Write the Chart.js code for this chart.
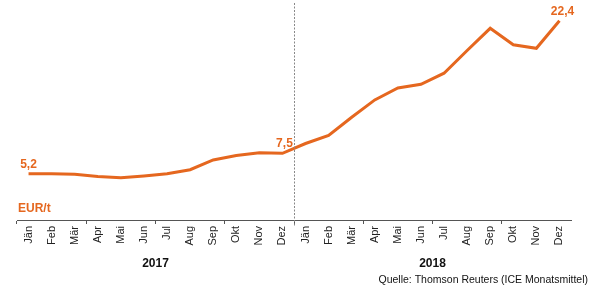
<!DOCTYPE html>
<html lang="de">
<head>
<meta charset="UTF-8">
<title>EUR/t 2017-2018</title>
<script src="https://cdn.jsdelivr.net/npm/chart.js@4.4.1/dist/chart.umd.min.js"></script>
<style>
  html, body { margin: 0; padding: 0; background: #fff; }
  #wrap { position: relative; width: 598px; height: 303px; }
</style>
</head>
<body>
<div id="wrap"><canvas id="chart" width="598" height="303"></canvas></div>
<script>
// Monatswerte 2017 und 2018 (EUR/t)
const months = ['Jän', 'Feb', 'Mär', 'Apr', 'Mai', 'Jun', 'Jul', 'Aug', 'Sep', 'Okt', 'Nov', 'Dez'];
const labels = months.concat(months);
const values2017 = [5.2, 5.2, 5.15, 4.9, 4.75, 4.95, 5.2, 5.65, 6.75, 7.25, 7.55, 7.5];
const values2018 = [8.6, 9.5, 11.55, 13.5, 14.85, 15.25, 16.5, 19.05, 21.55, 19.7, 19.3, 22.4];
const values = values2017.concat(values2018);
const years = ['2017', '2018'];
// Datenbeschriftungen: Index -> Text
const valueLabels = { 0: '5,2', 11: '7,5', 23: '22,4' };
const unitLabel = 'EUR/t';
const sourceText = 'Quelle: Thomson Reuters (ICE Monatsmittel)';

const orange = '#e5671f';

const extras = {
    id: 'extras',
    afterDraw(chart) {
        const ctx = chart.ctx;
        const x = chart.scales.x, y = chart.scales.y;
        const area = chart.chartArea;
        ctx.save();

        // gestrichelte Trennlinie zwischen den Jahren
        const xs = x.getPixelForValue(11.5);
        ctx.strokeStyle = '#888';
        ctx.lineWidth = 1;
        ctx.setLineDash([2, 1.5]);
        ctx.beginPath();
        ctx.moveTo(Math.round(xs) + 0.5, 3);
        ctx.lineTo(Math.round(xs) + 0.5, area.bottom + 6);
        ctx.stroke();
        ctx.setLineDash([]);

        // Werte
        ctx.fillStyle = orange;
        ctx.font = 'bold 12px "Liberation Sans", Arial, sans-serif';
        ctx.textAlign = 'center';
        ctx.textBaseline = 'alphabetic';
        Object.keys(valueLabels).forEach(i => {
            const px = x.getPixelForValue(+i);
            const py = y.getPixelForValue(values[i]);
            let dx = 0;
            if (+i === 0) dx = 0;
            if (+i === 11) dx = 2;
            if (+i === 23) dx = 3;
            ctx.fillText(valueLabels[i], px + dx, py - 6);
        });

        // Einheit
        ctx.textAlign = 'left';
        ctx.fillText(unitLabel, 18, 212);

        // Jahre
        ctx.fillStyle = '#111';
        ctx.font = 'bold 12px "Liberation Sans", Arial, sans-serif';
        ctx.textAlign = 'center';
        ctx.fillText(years[0], x.getPixelForValue(5.5), 267);
        ctx.fillText(years[1], x.getPixelForValue(17.5), 267);

        // Quelle
        ctx.font = '10.5px "Liberation Sans", Arial, sans-serif';
        ctx.textAlign = 'right';
        ctx.fillText(sourceText, 588, 283);
        ctx.restore();
    }
};

new Chart(document.getElementById('chart'), {
    type: 'line',
    data: {
        labels: labels,
        datasets: [{
            data: values,
            borderColor: orange,
            borderWidth: 3,
            pointRadius: 0,
            tension: 0,
            fill: false
        }]
    },
    options: {
        responsive: false,
        animation: false,
        layout: { padding: { left: 17, right: 27, top: 6.5, bottom: 0 } },
        plugins: { legend: { display: false }, tooltip: { enabled: false } },
        scales: {
            x: {
                offset: true,
                afterFit(scale) { scale.height = 83; },
                border: { display: true, color: '#555', width: 1 },
                grid: {
                    offset: true,
                    drawOnChartArea: false,
                    drawTicks: true,
                    tickLength: 4,
                    color: ctx => (ctx.index % 3 === 0 ? '#555' : 'rgba(0,0,0,0)')
                },
                ticks: {
                    autoSkip: false,
                    minRotation: 90,
                    maxRotation: 90,
                    padding: 2,
                    color: '#222',
                    font: { family: '"Liberation Sans", Arial, sans-serif', size: 11 }
                }
            },
            y: {
                display: false,
                min: 0,
                max: 24
            }
        }
    },
    plugins: [extras]
});
</script>
</body>
</html>
